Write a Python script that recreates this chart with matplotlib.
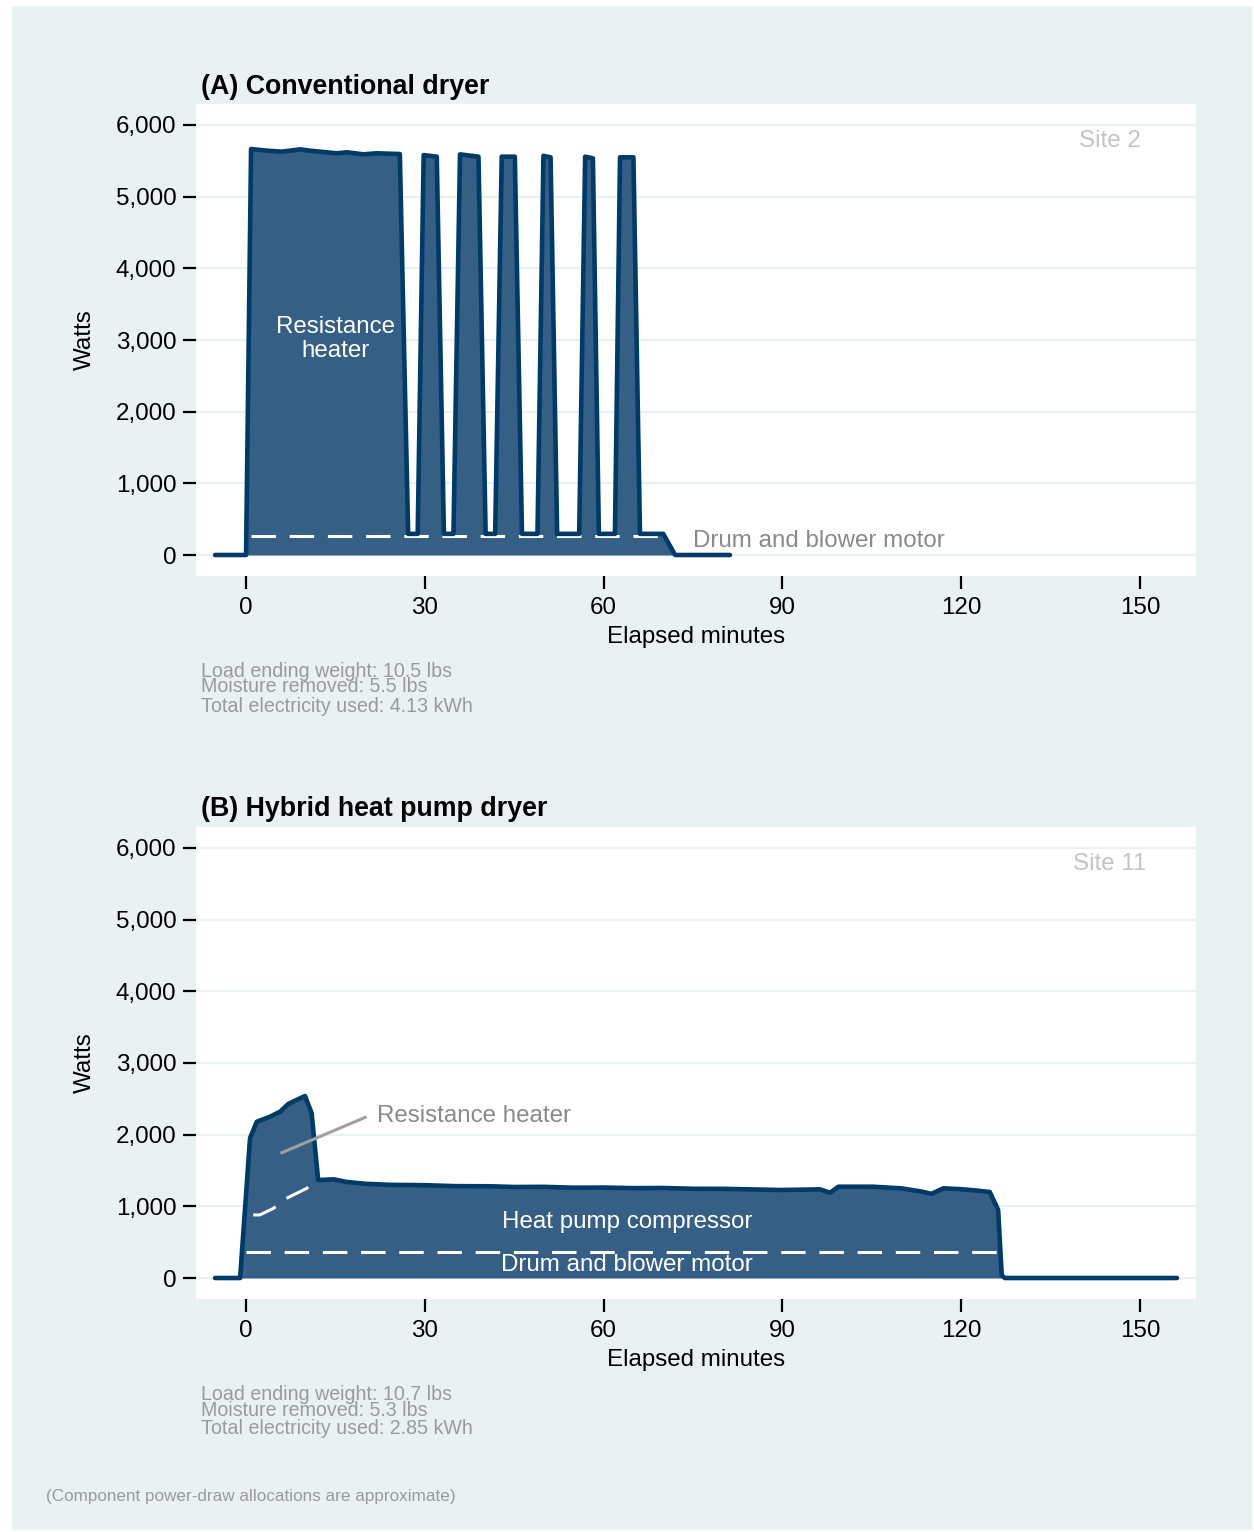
import numpy as np
import matplotlib
matplotlib.use('Agg')
import matplotlib.pyplot as plt
from matplotlib.patches import Rectangle
from matplotlib.ticker import FuncFormatter

plt.rcParams['font.family'] = ['Liberation Sans', 'DejaVu Sans']

# (A) conventional dryer, total draw
a_min = [-5.2, 0.0, 0.84, 3.5, 6.0, 9.1, 10.7, 15.2, 16.9, 19.7, 21.9, 25.8, 27.2,
         28.8, 29.8, 32.0, 33.2,
         34.8, 35.9, 39.0, 40.2,
         41.8, 42.9, 45.1, 46.3,
         48.9, 49.9, 51.1, 52.2,
         55.9, 56.9, 58.2, 59.2,
         61.9, 62.75, 65.0, 66.1,
         70.0, 72.0, 81.2]
a_watts = [0, 0, 5665, 5642, 5628, 5660, 5642, 5605, 5619, 5591, 5605, 5595, 295,
           295, 5580, 5558, 295,
           295, 5590, 5558, 295,
           295, 5558, 5558, 295,
           295, 5570, 5549, 295,
           295, 5558, 5535, 295,
           295, 5549, 5549, 295,
           295, 0, 0]
a_motor_min = [0.8, 70.0]
a_motor_watts = [270, 270]

# (B) hybrid heat pump dryer, total draw
b_min = [-5.2, -1.0, 0.67, 1.8, 4.0, 5.7, 7.1, 9.9, 11.0, 12.1, 14.7, 16.9, 20.0,
         24.2, 30, 35, 40.9, 45, 50, 55, 60, 65, 70, 75, 80, 85, 89.6, 93.0, 96.3,
         98.0, 99.4, 105.2, 110.0, 113.1, 115.0, 117.0, 119.8, 122.0, 124.8,
         126.2, 126.8, 127.3, 156.2]
b_watts = [0, 0, 1953, 2180, 2250, 2320, 2430, 2540, 2300, 1367, 1377, 1340, 1315,
           1300, 1295, 1282, 1280, 1270, 1272, 1260, 1262, 1254, 1256, 1245, 1244,
           1236, 1228, 1232, 1237, 1190, 1274, 1274, 1250, 1210, 1175, 1251, 1240,
           1225, 1200, 950, 40, 0, 0]
b_heater_min = [1.2, 2.3, 4.6, 6.8, 10.2, 12.1]
b_heater_watts = [880, 880, 972, 1112, 1252, 1367]
b_motor_min = [0.0, 126.0]
b_motor_watts = [358, 358]

xticks = [0, 30, 60, 90, 120, 150]
yticks = [0, 1000, 2000, 3000, 4000, 5000, 6000]

W, H = 1254, 1532
bg = '#eaf1f3'
fill_c = '#355f85'
line_c = '#003a66'
fs = 17.4

fig = plt.figure(figsize=(W / 100, H / 100), dpi=100, facecolor='white')
fig.patches.append(Rectangle((12 / W, 2 / H), (1252 - 12) / W, (1526 - 2) / H,
                             transform=fig.transFigure, facecolor=bg,
                             edgecolor='none', zorder=-10))


def make_ax(top_px):
    ax = fig.add_axes([196 / W, 1 - (top_px + 472) / H, 1000 / W, 472 / H])
    ax.set_facecolor('white')
    ax.set_xlim(-8.4, 159.4)
    ax.set_ylim(-293, 6293)
    for s in ax.spines.values():
        s.set_visible(False)
    ax.set_xticks(xticks)
    ax.set_yticks(yticks)
    ax.yaxis.set_major_formatter(FuncFormatter(lambda v, p: f'{int(v):,}'))
    ax.tick_params(axis='both', direction='out', length=9.3, width=1.6,
                   labelsize=fs, color='black')
    ax.tick_params(axis='y', pad=5)
    ax.tick_params(axis='x', pad=6)
    ax.grid(axis='y', color=bg, linewidth=1.5)
    ax.set_axisbelow(True)
    ax.text(-0.111, 0.5, 'Watts', transform=ax.transAxes, rotation=90,
            ha='center', va='center', fontsize=fs)
    ax.text(0.5, -0.129, 'Elapsed minutes', transform=ax.transAxes,
            ha='center', va='center', fontsize=fs)
    return ax


def draw_total(ax, x, y):
    ax.fill_between(x, 0, y, color=fill_c, linewidth=0, zorder=2)
    ax.plot(x, y, color=line_c, linewidth=3.3, solid_capstyle='round',
            solid_joinstyle='round', zorder=4)


def notes(top_px, lines):
    ys = [top_px, top_px + 16, top_px + 35]
    for yy, t in zip(ys, lines):
        fig.text(201 / W, 1 - yy / H, t, ha='left', va='center',
                 fontsize=14.1, color='#9a9a9a')


# ---- panel A
ax1 = make_ax(104)
fig.text(201 / W, 1 - 86.5 / H, '(A) Conventional dryer', ha='left', va='center',
         fontsize=19.3, fontweight='bold')
draw_total(ax1, a_min, a_watts)
ax1.plot(a_motor_min, a_motor_watts, color='white', linewidth=2.2,
         linestyle=(0, (8, 4.5)), zorder=3)
ax1.text(15, 3010, 'Resistance\nheater', color='white', ha='center', va='center',
         fontsize=fs, linespacing=1.12, zorder=5)
ax1.text(75, 190, 'Drum and blower motor', color='#8a8a8a', ha='left',
         va='center', fontsize=fs)
ax1.text(145, 5770, 'Site 2', color='#c4c4c4', ha='center', va='center',
         fontsize=fs)
notes(671, ['Load ending weight: 10.5 lbs', 'Moisture removed: 5.5 lbs',
            'Total electricity used: 4.13 kWh'])

# ---- panel B
ax2 = make_ax(827)
fig.text(201 / W, 1 - 809.5 / H, '(B) Hybrid heat pump dryer', ha='left',
         va='center', fontsize=19.3, fontweight='bold')
draw_total(ax2, b_min, b_watts)
ax2.plot(b_motor_min, b_motor_watts, color='white', linewidth=2.2,
         linestyle=(0, (8, 4.5)), zorder=3)
ax2.plot(b_heater_min, b_heater_watts, color='white', linewidth=2.2,
         linestyle=(0, (8, 4.5)), zorder=3)
ax2.plot([6.0, 20.0], [1748, 2242], color='#a0a0a0', linewidth=2.2, zorder=5)
ax2.text(22, 2260, 'Resistance heater', color='#8a8a8a', ha='left',
         va='center', fontsize=fs)
ax2.text(63.9, 780, 'Heat pump compressor', color='white', ha='center',
         va='center', fontsize=fs, zorder=5)
ax2.text(63.9, 185, 'Drum and blower motor', color='white', ha='center',
         va='center', fontsize=fs, zorder=5)
ax2.text(145, 5770, 'Site 11', color='#c4c4c4', ha='center', va='center',
         fontsize=fs)
notes(1394, ['Load ending weight: 10.7 lbs', 'Moisture removed: 5.3 lbs',
             'Total electricity used: 2.85 kWh'])

fig.text(46 / W, 1 - 1496 / H, '(Component power-draw allocations are approximate)',
         ha='left', va='center', fontsize=12.3, color='#9a9a9a')

fig.savefig('out.png', dpi=100, facecolor='white')
